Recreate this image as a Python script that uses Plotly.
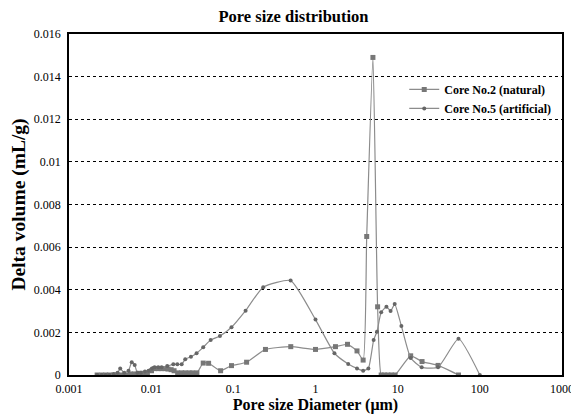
import plotly.graph_objects as go

# Core No.2 (natural)
x_core2 = [0.0022, 0.0025, 0.0028, 0.0031, 0.0035, 0.0039, 0.0044, 0.005, 0.0056, 0.0063,
           0.0071, 0.008, 0.009, 0.0101, 0.011, 0.0122, 0.0134, 0.0147, 0.016, 0.0175,
           0.019, 0.021, 0.0235, 0.026, 0.029, 0.032, 0.036, 0.043, 0.05, 0.07,
           0.095, 0.145, 0.246, 0.5, 1.0, 1.75, 2.45, 3.2, 3.8, 4.2,
           5.0, 5.7, 6.3, 6.9, 7.6, 8.4, 9.3, 14.4, 19.8, 31, 55]
y_core2 = [0, 0, 0, 0, 0, 0, 0, 0, 0.00005, 0.00005,
           0.00008, 0.00008, 0.0001, 0.0002, 0.0003, 0.0003, 0.0003, 0.0003, 0.00028, 0.00025,
           0.0002, 0.0001, 0.0001, 0.0001, 0.0001, 0.0001, 0.0001, 0.00056, 0.00055, 0.0002,
           0.00044, 0.0006, 0.0012, 0.00133, 0.0012, 0.00133, 0.00144, 0.00113, 0.0007, 0.0065,
           0.0149, 0.0032, 0, 0, 0, 0, 0, 0.0009, 0.00063, 0.00045, 0]

# Core No.5 (artificial)
x_core5 = [0.0022, 0.0025, 0.0028, 0.0031, 0.0035, 0.0039, 0.0042, 0.0047, 0.0053, 0.0058,
           0.0063, 0.0068, 0.0075, 0.0084, 0.0093, 0.0102, 0.011, 0.0122, 0.0134, 0.0157,
           0.0186, 0.0208, 0.0235, 0.026, 0.0305, 0.0357, 0.043, 0.053, 0.0687, 0.095,
           0.141, 0.231, 0.498, 1.0, 1.7, 2.5, 3.2, 3.8, 4.4, 5.1,
           5.6, 6.3, 7.3, 8.2, 9.2, 11.1, 14.4, 19.6, 31, 55, 100]
y_core5 = [0, 0, 0, 0, 0.00005, 0.0001, 0.0003, 0.0001, 0.0002, 0.0006,
           0.00047, 0.0001, 0.0001, 0.00016, 0.0002, 0.0003, 0.00036, 0.00036, 0.00036, 0.00042,
           0.0005, 0.0005, 0.0005, 0.00074, 0.00086, 0.00102, 0.0013, 0.00164, 0.00183, 0.00224,
           0.00302, 0.00412, 0.00443, 0.0026, 0.00102, 0.00052, 0.00031, 0.0002, 0.00031, 0.00164,
           0.00203, 0.00294, 0.0032, 0.003, 0.00333, 0.0023, 0.0008, 0.00036, 0.00036, 0.0017, 0]

x_ticks = [0.001, 0.01, 0.1, 1, 10, 100, 1000]
x_tick_labels = ["0.001", "0.01", "0.1", "1", "10", "100", "1000"]
y_ticks = [0, 0.002, 0.004, 0.006, 0.008, 0.01, 0.012, 0.014, 0.016]
y_tick_labels = ["0", "0.002", "0.004", "0.006", "0.008", "0.01", "0.012", "0.014", "0.016"]

serif = "Liberation Serif, Times New Roman, serif"

fig = go.Figure()
fig.add_trace(go.Scatter(
    x=x_core2, y=y_core2, mode="lines+markers", name="<b>Core No.2 (natural)</b>",
    line=dict(color="#8c8c8c", width=1.2, shape="spline", smoothing=0.5),
    marker=dict(symbol="square", size=5, color="#777777"),
))
fig.add_trace(go.Scatter(
    x=x_core5, y=y_core5, mode="lines+markers", name="<b>Core No.5 (artificial)</b>",
    line=dict(color="#8c8c8c", width=1.2, shape="spline", smoothing=0.5),
    marker=dict(symbol="circle", size=4, color="#666666"),
))

# page body adds an 8px margin, so the figure is sized to fit the 579x419 window
fig.update_layout(
    width=571, height=411,
    margin=dict(l=61, r=17, t=26, b=44),
    paper_bgcolor="white", plot_bgcolor="white",
    font=dict(family=serif, color="black", size=12),
    title=dict(text="<b>Pore size distribution</b>", x=0.5, xanchor="center",
               y=0.98, yanchor="middle", font=dict(size=16.5, family=serif)),
    legend=dict(x=0.68, y=0.88, xanchor="left", yanchor="top",
                bgcolor="rgba(0,0,0,0)", font=dict(size=12, family=serif),
                tracegroupgap=0, itemwidth=30),
    showlegend=True,
)
fig.update_xaxes(
    type="log", range=[-3, 3],
    tickvals=x_ticks, ticktext=x_tick_labels,
    showgrid=False, zeroline=False, automargin=False,
    showline=True, linecolor="black", linewidth=1.5, mirror=True,
    ticks="", tickfont=dict(size=12, family=serif), ticklabelstandoff=2,
    title=dict(text="<b>Pore size Diameter (μm)</b>", font=dict(size=16, family=serif), standoff=2),
)
fig.update_yaxes(
    range=[0, 0.016],
    tickvals=y_ticks, ticktext=y_tick_labels,
    showgrid=True, gridcolor="black", griddash="dot", gridwidth=1,
    zeroline=False, automargin=False,
    showline=True, linecolor="black", linewidth=1.5, mirror=True,
    ticks="", tickfont=dict(size=12, family=serif), ticklabelstandoff=4,
    title=dict(text="<b>Delta volume (mL/g)</b>", font=dict(size=19.5, family=serif), standoff=4),
)

fig.write_html("out.html")
